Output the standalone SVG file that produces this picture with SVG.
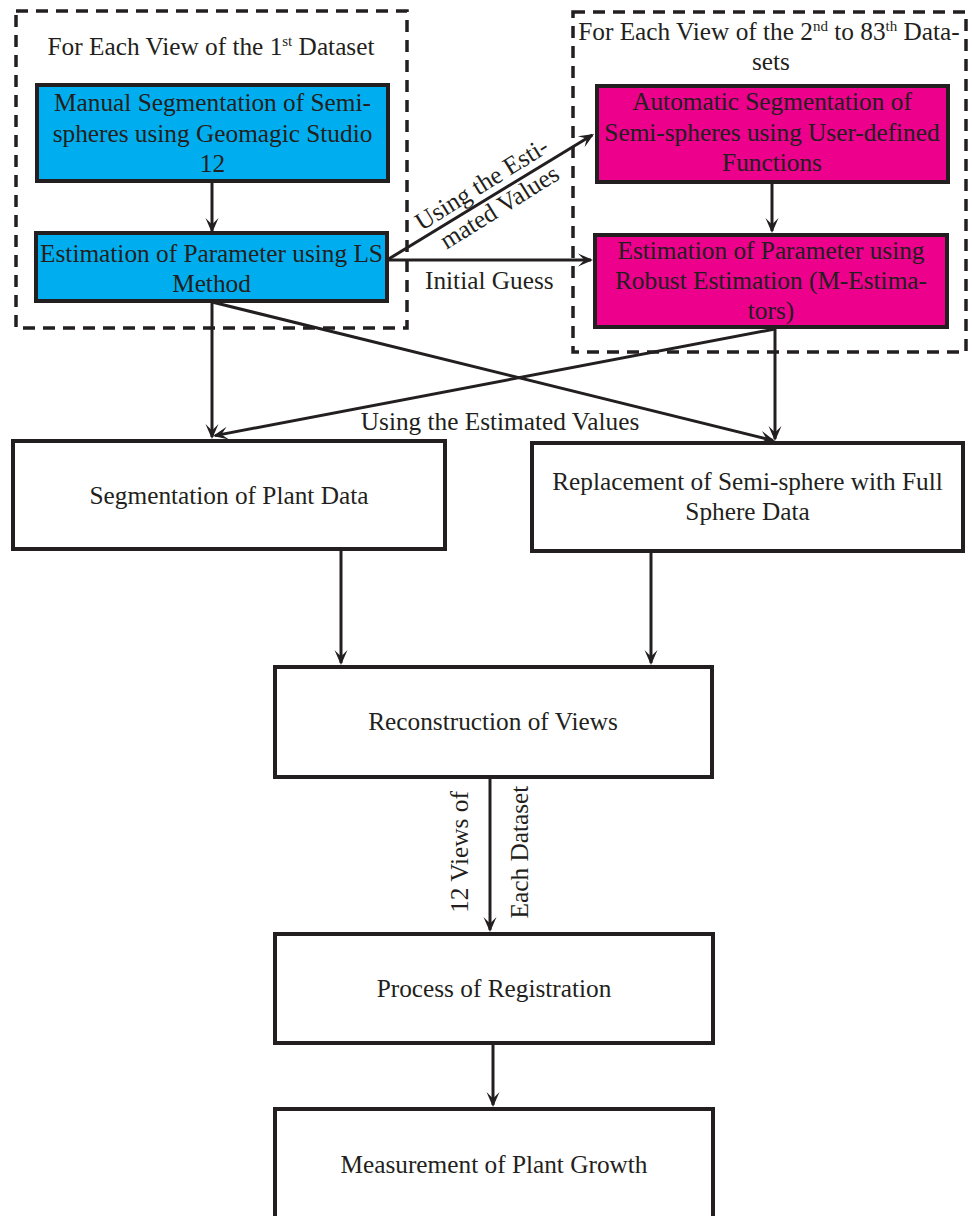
<svg xmlns="http://www.w3.org/2000/svg" width="972" height="1216" viewBox="0 0 972 1216">
<defs>
<style>
text{font-family:"Liberation Serif","Times New Roman",serif;font-size:25.3px;fill:#231f20;text-anchor:middle}
.sup{font-size:15px}
.dash{fill:none;stroke:#231f20;stroke-width:3.5;stroke-dasharray:12 8}
.box{stroke:#231f20;stroke-width:4}
.blue{fill:#00aeef}
.pink{fill:#ec008c}
.white{fill:#ffffff}
.conn{fill:none;stroke:#231f20;stroke-width:3}
</style>
<marker id="arr" markerUnits="userSpaceOnUse" markerWidth="20" markerHeight="20" viewBox="-16 -8 20 16" refX="-2" refY="0" orient="auto">
<path d="M0,0 L-15,-6.5 L-8.5,0 L-15,6.5 Z" fill="#231f20"/>
</marker>
</defs>
<rect width="972" height="1216" fill="#ffffff"/>

<g id="group-first">
<rect class="dash" x="16" y="11" width="391" height="317"/>
<text x="211" y="55">For Each View of the 1<tspan class="sup" dy="-9">st</tspan><tspan dy="9"> Dataset</tspan></text>
</g>

<g id="group-rest">
<rect class="dash" x="573" y="12" width="393" height="340"/>
<text x="769" y="40">For Each View of the 2<tspan class="sup" dy="-9">nd</tspan><tspan dy="9"> to 83</tspan><tspan class="sup" dy="-9">th</tspan><tspan dy="9"> Data-</tspan></text>
<text x="771" y="70">sets</text>
</g>

<g id="manual-seg">
<rect class="box blue" x="37" y="85" width="351" height="96"/>
<text x="212.5" y="111">Manual Segmentation of Semi-</text>
<text x="212.5" y="141.5">spheres using Geomagic Studio</text>
<text x="212.5" y="172">12</text>
</g>

<g id="ls-est">
<rect class="box blue" x="36" y="233" width="351" height="68"/>
<text x="211.5" y="261.5">Estimation of Parameter using LS</text>
<text x="211.5" y="291.5">Method</text>
</g>

<g id="auto-seg">
<rect class="box pink" x="597" y="86" width="351" height="96"/>
<text x="772" y="110">Automatic Segmentation of</text>
<text x="772" y="140.5">Semi-spheres using User-defined</text>
<text x="772" y="171">Functions</text>
</g>

<g id="robust-est">
<rect class="box pink" x="595" y="235" width="352" height="92"/>
<text x="771" y="259">Estimation of Parameter using</text>
<text x="771" y="289">Robust Estimation (M-Estima-</text>
<text x="771" y="318.5">tors)</text>
</g>

<g id="seg-plant">
<rect class="box white" x="13" y="441" width="432" height="108"/>
<text x="229" y="504">Segmentation of Plant Data</text>
</g>

<g id="replace">
<rect class="box white" x="532" y="443" width="431" height="108"/>
<text x="747.5" y="490">Replacement of Semi-sphere with Full</text>
<text x="747.5" y="520">Sphere Data</text>
</g>

<g id="recon">
<rect class="box white" x="275" y="667" width="437" height="110"/>
<text x="493" y="730">Reconstruction of Views</text>
</g>

<g id="registration">
<rect class="box white" x="275" y="934" width="438" height="109"/>
<text x="494" y="997">Process of Registration</text>
</g>

<g id="measure">
<rect class="box white" x="275" y="1109" width="438" height="114"/>
<text x="494" y="1173">Measurement of Plant Growth</text>
</g>

<g id="connectors">
<line class="conn" x1="212" y1="183" x2="212" y2="231" marker-end="url(#arr)"/>
<line class="conn" x1="387" y1="260" x2="592.3" y2="135" marker-end="url(#arr)"/>
<line class="conn" x1="387" y1="260" x2="591" y2="260" marker-end="url(#arr)"/>
<line class="conn" x1="772" y1="184" x2="772" y2="231" marker-end="url(#arr)"/>
<line class="conn" x1="212" y1="302" x2="212" y2="437" marker-end="url(#arr)"/>
<line class="conn" x1="212" y1="302" x2="773" y2="440.5" marker-end="url(#arr)"/>
<line class="conn" x1="775" y1="329" x2="775" y2="439" marker-end="url(#arr)"/>
<line class="conn" x1="775" y1="329" x2="215" y2="435.6" marker-end="url(#arr)"/>
<line class="conn" x1="341" y1="551" x2="341" y2="663" marker-end="url(#arr)"/>
<line class="conn" x1="651" y1="553" x2="651" y2="663" marker-end="url(#arr)"/>
<line class="conn" x1="490" y1="779" x2="490" y2="930" marker-end="url(#arr)"/>
<line class="conn" x1="493" y1="1045" x2="493" y2="1105" marker-end="url(#arr)"/>
<text x="425" y="289" style="text-anchor:start">Initial Guess</text>
<g transform="translate(486,191) rotate(-32)">
<text x="0" y="0">Using the Esti-</text>
<text x="3" y="29">mated Values</text>
</g>
<text x="500" y="430">Using the Estimated Values</text>
<g transform="translate(468,852) rotate(-90)"><text x="0" y="0">12 Views of</text></g>
<g transform="translate(528,852) rotate(-90)"><text x="0" y="0">Each Dataset</text></g>
</g>
</svg>
